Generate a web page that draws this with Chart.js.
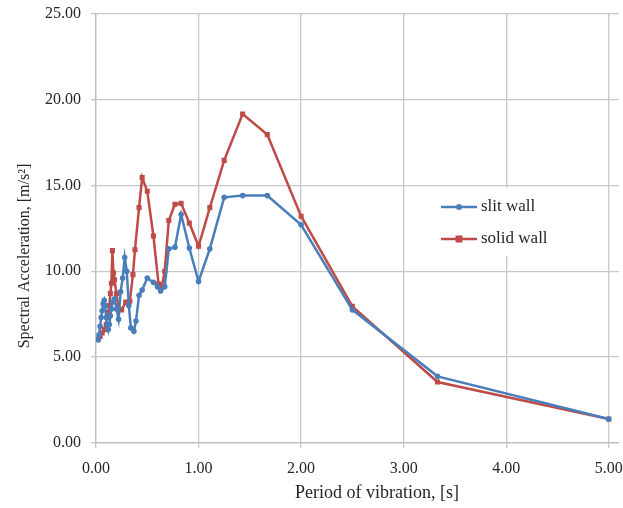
<!DOCTYPE html>
<html>
<head>
<meta charset="utf-8">
<script src="https://cdn.jsdelivr.net/npm/chart.js@4.4.1/dist/chart.umd.min.js"></script>
<style>
  body { margin: 0; background: #fff; }
</style>
</head>
<body>
<canvas id="chart" width="623" height="508"></canvas>
<script>
// period [s] and spectral acceleration [m/s2]
const slitPeriod = [0.02, 0.03, 0.04, 0.05, 0.06, 0.07, 0.08, 0.09, 0.10, 0.11, 0.12, 0.13, 0.14, 0.15, 0.16, 0.18, 0.20, 0.22, 0.24, 0.26, 0.28, 0.30, 0.32, 0.34, 0.37, 0.39, 0.42, 0.45, 0.50, 0.56, 0.60, 0.63, 0.67, 0.71, 0.77, 0.83, 0.91, 1.00, 1.11, 1.25, 1.43, 1.67, 2.00, 2.50, 3.33, 5.00];
const slitAccel = [6.0, 6.3, 6.8, 7.3, 7.7, 8.1, 8.3, 8.0, 7.3, 6.9, 6.6, 6.9, 7.4, 7.8, 8.2, 8.4, 7.8, 7.2, 8.8, 9.6, 10.8, 10.0, 8.0, 6.7, 6.5, 7.1, 8.6, 8.9, 9.6, 9.35, 9.1, 8.85, 9.1, 11.3, 11.4, 13.3, 11.35, 9.4, 11.3, 14.3, 14.4, 14.4, 12.7, 7.75, 3.88, 1.4];

const solidPeriod = [0.02, 0.04, 0.06, 0.08, 0.10, 0.11, 0.12, 0.13, 0.14, 0.15, 0.16, 0.17, 0.18, 0.20, 0.22, 0.25, 0.29, 0.33, 0.36, 0.38, 0.42, 0.45, 0.50, 0.56, 0.61, 0.64, 0.67, 0.71, 0.77, 0.83, 0.91, 1.00, 1.11, 1.25, 1.43, 1.67, 2.00, 2.50, 3.33, 5.00];
const solidAccel = [6.05, 6.2, 6.4, 6.6, 6.9, 7.3, 7.6, 8.0, 8.7, 9.3, 11.2, 9.9, 9.5, 8.7, 7.8, 7.75, 8.2, 8.25, 9.8, 11.25, 13.7, 15.45, 14.65, 12.05, 9.25, 9.05, 10.0, 12.95, 13.9, 13.95, 12.8, 11.45, 13.7, 16.45, 19.15, 17.95, 13.2, 7.95, 3.55, 1.4];

const xTicks = [0, 1, 2, 3, 4, 5];
const yTicks = [0, 5, 10, 15, 20, 25];
const seriesNames = ['slit wall', 'solid wall'];
const xTitle = 'Period of vibration, [s]';
const yTitle = 'Spectral Acceleration, [m/s²]';

const blue = '#4a7ebb';
const red = '#be4b48';
const gridColor = '#c8c8c8';
const textColor = '#262626';
const serif = '"Liberation Serif", "Times New Roman", serif';

function toPoints(xs, ys) {
  return xs.map((x, i) => ({ x: x, y: ys[i] }));
}

// legend box sitting inside the plot, like the excel one
const insideLegend = {
  id: 'insideLegend',
  afterDatasetsDraw(chart) {
    const ctx = chart.ctx;
    ctx.save();
    ctx.fillStyle = '#fff';
    ctx.fillRect(432, 188, 135, 68);
    chart.data.datasets.forEach((ds, i) => {
      const y = 207 + i * 32;
      ctx.strokeStyle = ds.borderColor;
      ctx.lineWidth = 2.5;
      ctx.beginPath();
      ctx.moveTo(441, y);
      ctx.lineTo(477, y);
      ctx.stroke();
      ctx.fillStyle = ds.borderColor;
      if (ds.pointStyle === 'rect') {
        ctx.fillRect(459 - 3.5, y - 3.5, 7, 7);
      } else {
        ctx.beginPath();
        ctx.arc(459, y, 3, 0, Math.PI * 2);
        ctx.fill();
      }
      ctx.fillStyle = textColor;
      ctx.font = '17px ' + serif;
      ctx.textBaseline = 'middle';
      ctx.textAlign = 'left';
      ctx.fillText(ds.label, 481, y);
    });
    ctx.restore();
  }
};

const axisTitles = {
  id: 'axisTitles',
  afterDraw(chart) {
    const ctx = chart.ctx;
    ctx.save();
    ctx.fillStyle = textColor;
    ctx.textAlign = 'center';
    ctx.textBaseline = 'middle';
    ctx.font = '18px ' + serif;
    ctx.fillText(xTitle, 377, 493);
    ctx.font = '16px ' + serif;
    ctx.translate(25, 256);
    ctx.rotate(-Math.PI / 2);
    ctx.fillText(yTitle, 0, 0);
    ctx.restore();
  }
};

new Chart(document.getElementById('chart'), {
  type: 'scatter',
  data: {
    datasets: [
      {
        label: seriesNames[0],
        data: toPoints(slitPeriod, slitAccel),
        showLine: true,
        borderColor: blue,
        backgroundColor: blue,
        borderWidth: 2.5,
        pointStyle: 'circle',
        pointRadius: 2.8,
        pointBorderWidth: 0
      },
      {
        label: seriesNames[1],
        data: toPoints(solidPeriod, solidAccel),
        showLine: true,
        borderColor: red,
        backgroundColor: red,
        borderWidth: 2.5,
        pointStyle: 'rect',
        pointRadius: 3.6,
        pointBorderWidth: 0
      }
    ]
  },
  options: {
    responsive: false,
    animation: false,
    layout: { padding: { top: 13.5, left: 0, right: 0, bottom: 0 } },
    plugins: {
      legend: { display: false },
      tooltip: { enabled: false }
    },
    scales: {
      x: {
        type: 'linear',
        min: 0,
        max: 5.10,
        afterBuildTicks: (scale) => { scale.ticks = xTicks.map(v => ({ value: v })); },
        afterFit: (scale) => {
          scale.height = 65;
          scale.paddingLeft = 0;
          scale.paddingRight = 0;
        },
        ticks: {
          callback: (v) => v.toFixed(2),
          font: { family: serif, size: 16 },
          color: textColor,
          padding: 11,
          maxRotation: 0
        },
        grid: { color: gridColor, lineWidth: 1.3, tickLength: 5 },
        border: { color: '#bdbdbd', width: 1.3 }
      },
      y: {
        min: 0,
        max: 25,
        afterBuildTicks: (scale) => { scale.ticks = yTicks.map(v => ({ value: v })); },
        afterFit: (scale) => {
          scale.width = 96;
          scale.paddingTop = 0;
          scale.paddingBottom = 0;
        },
        ticks: {
          callback: (v) => v.toFixed(2),
          font: { family: serif, size: 16 },
          color: textColor,
          padding: 10
        },
        grid: { color: gridColor, lineWidth: 1.3, tickLength: 5 },
        border: { color: '#bdbdbd', width: 1.3 }
      }
    }
  },
  plugins: [insideLegend, axisTitles]
});
</script>
</body>
</html>
